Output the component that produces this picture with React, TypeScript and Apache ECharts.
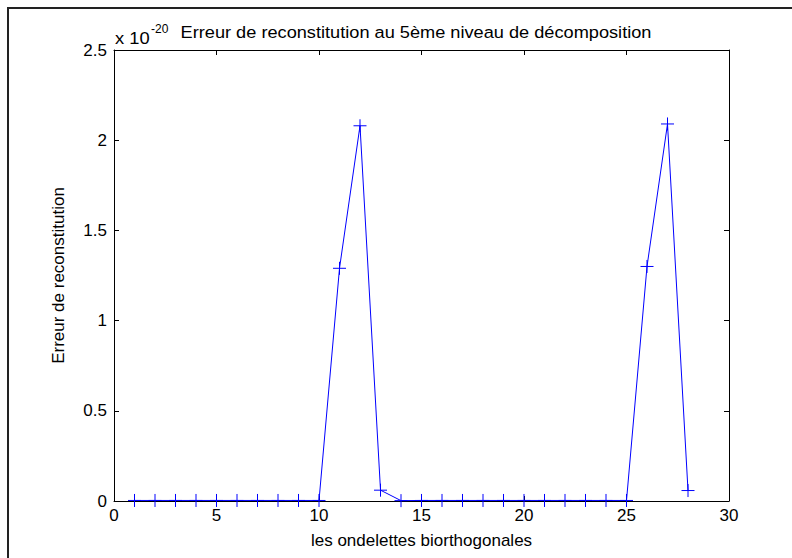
import React, { useEffect, useRef } from "react";
import * as echarts from "echarts";

const xValues = [1, 2, 3, 4, 5, 6, 7, 8, 9, 10, 11, 12, 13, 14, 15, 16, 17, 18, 19, 20, 21, 22, 23, 24, 25, 26, 27, 28];
const errValues = [
  0.003, 0.003, 0.003, 0.003, 0.003, 0.003, 0.003, 0.003, 0.003, 0.003,
  1.29, 2.08, 0.06, 0.002,
  0.003, 0.003, 0.003, 0.003, 0.003, 0.003, 0.003, 0.003, 0.003, 0.003, 0.003,
  1.3, 2.09, 0.058,
];
const xTicks = { min: 0, max: 30, interval: 5 };
const yTicks = { min: 0, max: 2.5, interval: 0.5 };

const titleText = "Erreur de reconstitution au 5ème niveau de décomposition";
const xName = "les ondelettes biorthogonales";
const yName = "Erreur de reconstitution";

const FONT = "'Liberation Sans', Arial, sans-serif";

export default function App() {
  const ref = useRef<HTMLDivElement>(null);
  useEffect(() => {
    if (!ref.current) return;
    const chart = echarts.init(ref.current, undefined, { renderer: "svg" });
    const axisCommon = {
      axisLine: { show: true, onZero: false, lineStyle: { color: "#000", width: 1 } },
      axisTick: { show: true, inside: true, length: 5, lineStyle: { color: "#000" } },
      splitLine: { show: false },
    };
    chart.setOption({
      animation: false,
      backgroundColor: "#fff",
      textStyle: { fontFamily: FONT },
      grid: { left: 114, right: 63, top: 50, bottom: 57, containLabel: false },
      xAxis: [
        {
          type: "value",
          ...xTicks,
          position: "bottom",
          ...axisCommon,
          axisLabel: { color: "#000", fontSize: 17, margin: 6, fontFamily: FONT },
          name: xName,
          nameLocation: "middle",
          nameGap: 31,
          nameTextStyle: { color: "#000", fontSize: 17, fontFamily: FONT },
        },
        {
          type: "value",
          ...xTicks,
          position: "top",
          ...axisCommon,
          axisLabel: { show: false },
        },
      ],
      yAxis: [
        {
          type: "value",
          ...yTicks,
          position: "left",
          ...axisCommon,
          axisLabel: { color: "#000", fontSize: 17, margin: 7, fontFamily: FONT },
          name: yName,
          nameLocation: "middle",
          nameGap: 47,
          nameRotate: 90,
          nameTextStyle: { color: "#000", fontSize: 17, fontFamily: FONT },
        },
        {
          type: "value",
          ...yTicks,
          position: "right",
          ...axisCommon,
          axisLabel: { show: false },
        },
      ],
      graphic: [
        {
          type: "rect",
          shape: { x: 8, y: 8, width: 800, height: 570 },
          style: { fill: "none", stroke: "#222", lineWidth: 2 },
          silent: true,
        },
        {
          type: "text",
          x: 115,
          y: 47,
          scaleX: 1.08,
          style: { text: "x 10", fontSize: 17, fontFamily: FONT, fill: "#000", textVerticalAlign: "bottom" },
        },
        {
          type: "text",
          x: 151,
          y: 35,
          style: { text: "-20", fontSize: 12, fontFamily: FONT, fill: "#000", textVerticalAlign: "bottom" },
        },
        {
          type: "text",
          x: 416,
          y: 41,
          scaleX: 1.07,
          style: { text: titleText, fontSize: 17, fontFamily: FONT, fill: "#000", textAlign: "center", textVerticalAlign: "bottom" },
        },
      ],
      series: [
        {
          type: "line",
          data: xValues.map((x, i) => [x, errValues[i]]),
          symbol: "path://M0,5L10,5M5,0L5,10",
          symbolSize: 13,
          lineStyle: { color: "#0000ff", width: 1 },
          itemStyle: { color: "none", borderColor: "#0000ff", borderWidth: 1 },
          emphasis: { disabled: true },
        },
      ],
    });
    return () => chart.dispose();
  }, []);
  return <div ref={ref} style={{ position: "fixed", left: 0, top: 0, width: 792, height: 558 }} />;
}
